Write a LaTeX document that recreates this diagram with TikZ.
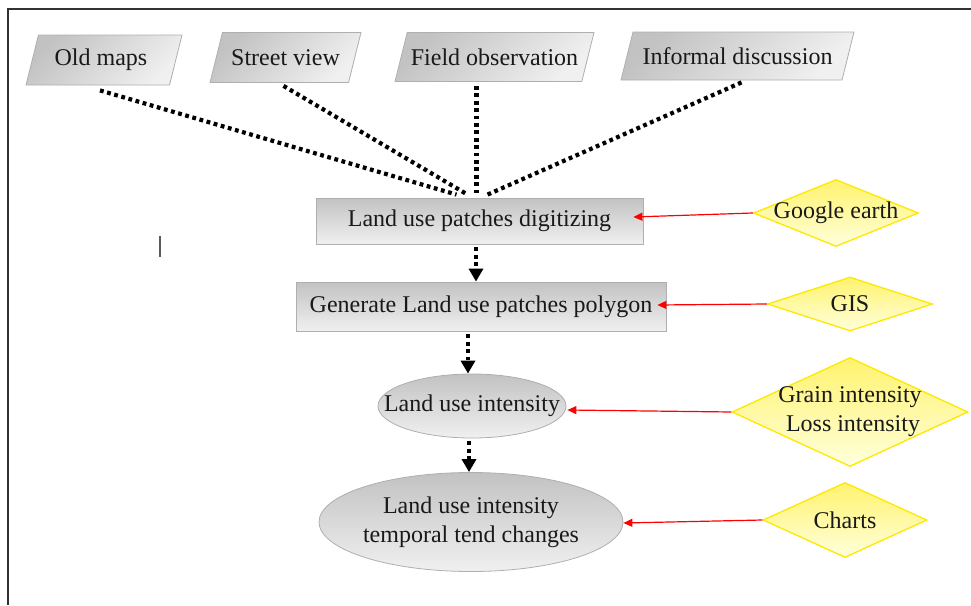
\documentclass[tikz,border=0pt]{standalone}
\usepackage{fontspec}
\setmainfont{Liberation Serif}
\usetikzlibrary{shapes.geometric,arrows.meta,calc}
\definecolor{boxline}{RGB}{175,175,175}
\definecolor{graytop}{RGB}{194,194,194}
\definecolor{graybot}{RGB}{240,240,240}
\definecolor{yeltop}{RGB}{255,243,110}
\definecolor{yelbot}{RGB}{255,255,220}
\definecolor{yelline}{RGB}{255,232,0}
\definecolor{framecol}{RGB}{50,50,50}
\definecolor{txt}{RGB}{25,25,25}
\tikzset{
  every node/.style={font=\fontsize{24}{29}\selectfont, text=txt},
  para/.style={trapezium, trapezium left angle=76, trapezium right angle=104,
    trapezium stretches body, draw=boxline, line width=0.8pt, inner sep=0pt,
    top color=graytop, bottom color=graybot, shading angle=45},
  rectbox/.style={rectangle, draw=boxline, line width=0.8pt, inner sep=0pt,
    top color=graytop, bottom color=graybot},
  ellbox/.style={ellipse, draw=boxline, line width=0.8pt, inner sep=0pt,
    top color=graytop, bottom color=graybot},
  diabox/.style={diamond, draw=yelline, line width=1.3pt, inner sep=0pt,
    top color=yeltop, bottom color=yelbot},
  dotline/.style={line width=4.2pt, dash pattern=on 3.8pt off 3.6pt, black},
  dotarrow/.style={dotline, -{Triangle[width=14pt,length=13pt]}},
  redarrow/.style={red, line width=1.2pt, -{Triangle[width=8pt,length=9pt]}},
}
\begin{document}
\begin{tikzpicture}[x=1pt,y=-1pt]
\useasboundingbox (0,0) rectangle (971,605);
% frame
\draw[framecol, line width=2pt] (971,8.5) -- (7.5,8.5) -- (7.5,605);
\draw[framecol!80, line width=1.5pt] (160,236) -- (160,257);

% source parallelograms
\node[para, minimum width=156pt,
  label={[xshift=-3pt]center:Old maps}] (om) at (104,60) {\rule{0pt}{50pt}};
\node[para, minimum width=151pt,
  label={center:Street view}] (sv) at (285.5,57.5) {\rule{0pt}{50pt}};
\node[para, minimum width=199pt,
  label={center:Field observation}] (fo) at (494.5,57) {\rule{0pt}{49pt}};
\node[para, minimum width=233pt,
  label={center:Informal discussion}] (inf) at (737.5,56) {\rule{0pt}{48pt}};

% main chain
\node[rectbox, minimum width=327pt, minimum height=46pt] (r1) at (479.5,221) {Land use patches digitizing};
\node[rectbox, minimum width=370pt, minimum height=49pt] (r2) at (481,306.5) {Generate Land use patches polygon};
\node[ellbox, minimum width=188pt, minimum height=64pt,
  label={center:Land use intensity}] (e1) at (472,406) {};
\node[ellbox, minimum width=304pt, minimum height=99pt,
  label={[align=center]center:Land use intensity\\temporal tend changes}] (e2) at (471,522) {};

% tool diamonds
\node[diabox, minimum width=165pt, minimum height=67pt,
  label={center:Google earth}] (ge) at (836,213) {};
\node[diabox, minimum width=165pt, minimum height=54pt,
  label={center:GIS}] (gis) at (850,304) {};
\node[diabox, minimum width=236pt, minimum height=109pt,
  label={[align=center]center:Grain intensity\\\ Loss intensity}] (gl) at (850,412) {};
\node[diabox, minimum width=164pt, minimum height=75pt,
  label={center:Charts}] (ch) at (845,520) {};

% dotted convergence lines
\draw[dotline] ($(om.south)+(-4,5)$) -- ($(r1.north)+(-23,-3)$);
\draw[dotline] ($(sv.south)+(-2,3)$) -- ($(r1.north)+(-12,-3)$);
\draw[dotline] ($(fo.south)+(-18,4)$) -- ($(r1.north)+(-3,-3)$);
\draw[dotline] ($(inf.south)+(4,2)$) -- ($(r1.north)+(8,-3)$);

% dotted arrows down the chain
\draw[dotarrow] ($(r1.south)+(-3.5,3)$) -- ($(r2.north)+(-5,0)$);
\draw[dotarrow] ($(r2.south)+(-13,3)$) -- ($(e1.north)+(-4,0)$);
\draw[dotarrow] ($(e1.south)+(-3,3)$) -- ($(e2.north)+(-2,0)$);

% red arrows from tools
\draw[redarrow] (ge.west) -- ($(r1.east)+(-10,-4)$);
\draw[redarrow] (gis.west) -- ($(r2.east)+(-9,-1.5)$);
\draw[redarrow] (gl.west) -- ($(e1.east)+(1,4)$);
\draw[redarrow] (ch.west) -- ($(e2.east)+(0,1)$);
\end{tikzpicture}
\end{document}
